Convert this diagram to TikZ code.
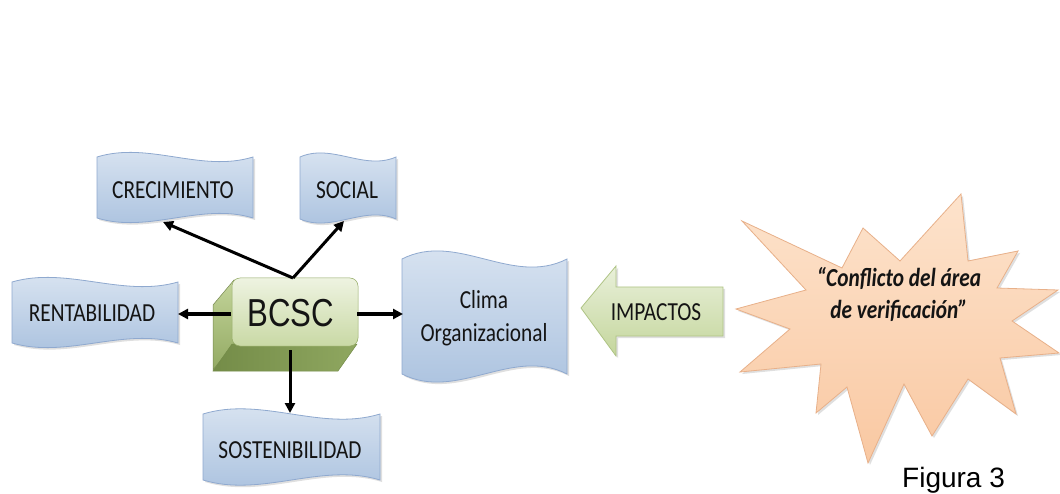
\documentclass[tikz,border=0pt]{standalone}
\usepackage{fontspec}
\usetikzlibrary{arrows.meta,shadows}
\newfontfamily\calfont[FakeStretch=0.82]{Carlito}
\newfontfamily\bcscfont[FakeStretch=0.8]{Liberation Sans}
\newfontfamily\figfont{Liberation Sans}
\definecolor{bantop}{HTML}{DCE6F2}
\definecolor{banbot}{HTML}{A8C0DE}
\definecolor{banedge}{HTML}{8FA9CF}
\definecolor{gfront1}{HTML}{EEF3E1}
\definecolor{gfront2}{HTML}{C9D9A5}
\definecolor{gleft1}{HTML}{C3D49A}
\definecolor{gleft2}{HTML}{93AA63}
\definecolor{gbot1}{HTML}{8FA760}
\definecolor{gbot2}{HTML}{748C48}
\definecolor{imp1}{HTML}{E9F0DA}
\definecolor{imp2}{HTML}{C4D69C}
\definecolor{impedge}{HTML}{AFC485}
\definecolor{star1}{HTML}{FDE3CC}
\definecolor{star2}{HTML}{F9C8A2}
\definecolor{staredge}{HTML}{E8B089}
\definecolor{txt}{HTML}{141414}
\newcommand\wavebanner[5]{%
  \path[banner] (#1,#2) .. controls ({#1+(#3-#1)/3},{#2-#5}) and ({#1+2*(#3-#1)/3},{#2+#5}) .. (#3,#2)
    -- (#3,#4) .. controls ({#1+2*(#3-#1)/3},{#4-#5}) and ({#1+(#3-#1)/3},{#4+#5}) .. (#1,#4) -- cycle;}
\tikzset{
  softshadow/.style={drop shadow={shadow xshift=2pt, shadow yshift=-2pt, opacity=0.25, fill=black!50}},
  banner/.style={draw=banedge, line width=0.8pt, top color=bantop, bottom color=banbot, softshadow},
  lbl/.style={font=\calfont\fontsize{26}{30}\selectfont, text=txt, inner sep=0pt, align=center},
  conn/.style={line width=3pt, -{Triangle[length=10pt,width=10pt]}, black},
}
\begin{document}
\begin{tikzpicture}[x=1pt,y=-1pt]
\useasboundingbox (0,0) rectangle (1060,494);
\fill[white] (0,0) rectangle (1060,494);
% banners
\wavebanner{97}{157}{253}{218}{16}
\wavebanner{300}{157}{396}{219}{14}
\wavebanner{12}{282}{178}{343}{16}
\wavebanner{203}{414}{380}{480}{18}
\wavebanner{402}{259}{567}{374}{28}
% BCSC 3D box
\path[draw=gleft2!80!black, line width=0.5pt, top color=gleft1, bottom color=gleft2]
  (234,280) -- (234,344) -- (213,370) -- (213,305) -- cycle;
\path[draw=gbot2, line width=0.5pt, left color=gbot2, right color=gbot1]
  (232,344) -- (357,344) -- (338,371) -- (213,371) -- cycle;
\path[draw=gleft2, line width=0.5pt, top color=gfront1, bottom color=gfront2, rounded corners=8pt]
  (232,278) rectangle (358,346);
% IMPACTOS arrow
\path[draw=impedge, line width=0.8pt, top color=imp1, bottom color=imp2, softshadow]
  (581,308) -- (616,266) -- (616,287) -- (723,287) -- (723,336) -- (616,336) -- (616,356) -- cycle;
% starburst
\path[draw=staredge, line width=0.8pt, top color=star1, bottom color=star2, softshadow]
  (742,221) -- (842,268) -- (863,228) -- (900,261) -- (961,194) -- (968,261) -- (1018,251)
  -- (997,288) -- (1058,290) -- (1012,321) -- (1059,353) -- (1000,358) -- (1016,414)
  -- (968,379) -- (932,436) -- (904,384) -- (868,463) -- (847,387) -- (816,413)
  -- (821,364) -- (740,372) -- (790,329) -- (736,309) -- (806,290) -- cycle;
% text nodes
\node[lbl] (crec) at (173,190) {CRECIMIENTO};
\node[lbl] (soc) at (347,190) {SOCIAL};
\node[lbl] (rent) at (92,313) {RENTABILIDAD};
\node[lbl] (sost) at (290,450) {SOSTENIBILIDAD};
\node[lbl] (clima) at (484,318) {Clima\\[3pt]Organizacional};
\node[lbl] (imp) at (656,312) {IMPACTOS};
\node[font=\bcscfont\fontsize{39}{44}\selectfont, text=txt, inner sep=0pt] (bcsc) at (291,313) {BCSC};
\node[font=\calfont\bfseries\itshape\fontsize{26}{32}\selectfont, text=txt, align=center, inner sep=0pt] (conf) at (899,294) {“Conflicto del área\\de verificación”};
\node[font=\figfont\fontsize{28}{32}\selectfont, anchor=base west, inner sep=0pt] (fig) at (902,487) {Figura 3};
% connector end points
\coordinate (bcscTop) at (293,278);
\coordinate (crecEnd) at (163,222);
\coordinate (socEnd) at (344,221);
\coordinate (bcscL) at (231,314);
\coordinate (rentEnd) at (178,314);
\coordinate (bcscR) at (357,314);
\coordinate (climaEnd) at (403,314);
\coordinate (bcscB) at (290,350);
\coordinate (sostEnd) at (290,413);
\draw[conn] (bcscTop) -- (crecEnd);
\draw[conn] (bcscTop) -- (socEnd);
\draw[conn] (bcscL) -- (rentEnd);
\draw[conn] (bcscR) -- (climaEnd);
\draw[conn] (bcscB) -- (sostEnd);
\end{tikzpicture}
\end{document}
